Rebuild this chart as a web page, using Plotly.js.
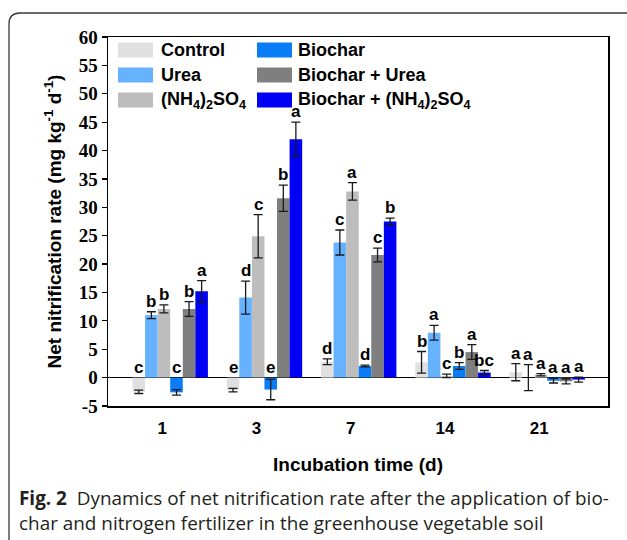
<!DOCTYPE html>
<html><head><meta charset="utf-8">
<script src="https://cdn.plot.ly/plotly-3.0.1.min.js"></script>
<style>html,body{margin:0;padding:0;background:#fff}#chart{width:627px;height:540px}</style>
</head><body><div id="chart"></div>
<script>
// ---- data ----
const days = ['1', '3', '7', '14', '21'];
const seriesNames = ['Control', 'Urea', '(NH<sub>4</sub>)<sub>2</sub>SO<sub>4</sub>', 'Biochar', 'Biochar + Urea', 'Biochar + (NH<sub>4</sub>)<sub>2</sub>SO<sub>4</sub>'];
const seriesColors = ['#e0e0e0', '#66b2ff', '#bdbdbd', '#0a7cf5', '#7f7f7f', '#0000f5'];

const control        = [-2.5, -2.2, 2.8, 2.7, 0.95];
const controlErr     = [0.3, 0.3, 0.5, 1.9, 1.5];
const urea           = [11.0, 14.1, 23.8, 7.9, 0.0];
const ureaErr        = [0.6, 2.9, 2.2, 1.3, 2.3];
const ammSulf        = [12.1, 24.9, 32.8, 0.3, 0.5];
const ammSulfErr     = [0.7, 3.8, 1.55, 0.3, 0.2];
const biochar        = [-2.6, -2.1, 2.05, 2.05, -0.55];
const biocharErr     = [0.5, 1.8, 0.15, 0.6, 0.4];
const biocharUrea    = [12.1, 31.6, 21.6, 4.5, -0.65];
const biocharUreaErr = [1.3, 2.3, 1.2, 1.3, 0.45];
const biocharAmm     = [15.2, 42.0, 27.5, 0.9, -0.35];
const biocharAmmErr  = [1.9, 3.0, 0.6, 0.35, 0.45];

const controlLetters     = ['c', 'e', 'd', 'b', 'a'];
const ureaLetters        = ['b', 'd', 'c', 'a', 'a'];
const ammSulfLetters     = ['b', 'c', 'a', 'c', 'a'];
const biocharLetters     = ['c', 'e', 'd', 'b', 'a'];
const biocharUreaLetters = ['b', 'b', 'c', 'a', 'a'];
const biocharAmmLetters  = ['a', 'a', 'b', 'bc', 'a'];

const yTickVals   = [-5, 0, 5, 10, 15, 20, 25, 30, 35, 40, 45, 50, 55, 60];
const yTickLabels = ['-5', '0', '5', '10', '15', '20', '25', '30', '35', '40', '45', '50', '55', '60'];

const captionText = '<b>Fig. 2</b>  Dynamics of net nitrification rate after the application of bio-<br>' +
  'char and nitrogen fertilizer in the greenhouse vegetable soil';

// ---- build ----
const values = [control, urea, ammSulf, biochar, biocharUrea, biocharAmm];
const errs = [controlErr, ureaErr, ammSulfErr, biocharErr, biocharUreaErr, biocharAmmErr];
const letters = [controlLetters, ureaLetters, ammSulfLetters, biocharLetters, biocharUreaLetters, biocharAmmLetters];

const bargap = 0.2;
const nS = values.length;
const barW = (1 - bargap) / nS;

const traces = values.map((v, k) => ({
  type: 'bar', x: days, y: v, name: seriesNames[k],
  marker: {color: seriesColors[k], line: {width: 0}},
  error_y: {type: 'data', array: errs[k], visible: true, color: '#1a1a1a', thickness: 1.3, width: 4.5},
  showlegend: false, hoverinfo: 'x+y+name'
}));

const BOLD = "'Liberation Sans', Arial, sans-serif";
const SERIF = "'Liberation Serif', 'Times New Roman', serif";
const annotations = [];
values.forEach((v, k) => {
  v.forEach((val, i) => {
    annotations.push({
      x: i + (k - (nS - 1) / 2) * barW, xref: 'x',
      y: Math.max(val + errs[k][i], 0), yref: 'y',
      text: letters[k][i], showarrow: false, xanchor: 'center', yanchor: 'bottom',
      font: {family: BOLD, size: 17, color: '#000', weight: 'bold'}, yshift: -1
    });
  });
});

// pixel helpers for decorative items (plot area: x 108..608, y 37..406)
const L = 108, R = 608, T = 37, B = 406;
const px = x => (x - L) / (R - L);
const py = y => (B - y) / (B - T);

// manual legend (two columns, three rows)
const legendOrder = [[0, 1, 2], [3, 4, 5]];
const colSym = [118, 257], colText = [159, 296], rowY = [50, 75, 100];
const shapes = [];
legendOrder.forEach((col, c) => col.forEach((k, r) => {
  shapes.push({type: 'rect', xref: 'paper', yref: 'paper',
    x0: px(colSym[c]), x1: px(colSym[c] + 35), y0: py(rowY[r] + 7.5), y1: py(rowY[r] - 7.5),
    fillcolor: seriesColors[k], line: {width: 0}});
  annotations.push({xref: 'paper', yref: 'paper', x: px(colText[c]), y: py(rowY[r]),
    xanchor: 'left', yanchor: 'middle', showarrow: false, text: seriesNames[k],
    font: {family: BOLD, size: 18, color: '#000', weight: 'bold'}});
}));

// rounded figure border
const bx = px(9), bt = py(13), rx = 11 / (R - L), ry = 11 / (B - T);
shapes.push({type: 'path', xref: 'paper', yref: 'paper', layer: 'below',
  path: `M ${bx},${py(560)} L ${bx},${bt - ry} Q ${bx},${bt} ${bx + rx},${bt} L ${px(660)},${bt}`,
  line: {color: '#3a3a3a', width: 1.3}});

// caption
annotations.push({xref: 'paper', yref: 'paper', x: px(17), y: py(510), xanchor: 'left', yanchor: 'middle',
  align: 'left', showarrow: false, text: captionText,
  font: {family: "'Open Sans', sans-serif", size: 18.9, color: '#231f20'}});

const layout = {
  width: 627, height: 540,
  margin: {l: L, r: 627 - R, t: T, b: 540 - B, pad: 0},
  paper_bgcolor: '#fff', plot_bgcolor: '#fff',
  barmode: 'group', bargap: bargap, bargroupgap: 0,
  showlegend: false,
  xaxis: {
    type: 'category', range: [-0.66, 4.645], showgrid: false, zeroline: false,
    showline: true, linecolor: '#000', linewidth: 1.5, mirror: true,
    ticks: '', ticklabelshift: -8, ticklabelstandoff: 6,
    tickfont: {family: BOLD, size: 17, color: '#000', weight: 'bold'},
    title: {text: 'Incubation time (d)', standoff: 21,
      font: {family: BOLD, size: 19, color: '#000', weight: 'bold'}}
  },
  yaxis: {
    range: [-5, 60], tickvals: yTickVals, ticktext: yTickLabels, showgrid: false,
    zeroline: true, zerolinecolor: '#000', zerolinewidth: 1.3,
    showline: true, linecolor: '#000', linewidth: 1.5, mirror: true,
    ticks: 'outside', ticklen: 5, tickwidth: 1.2, tickcolor: '#000',
    tickfont: {family: SERIF, size: 19, color: '#000', weight: 'bold'},
    title: {text: 'Net nitrification rate (mg kg<sup>-1</sup> d<sup>-1</sup>)', standoff: 12,
      font: {family: BOLD, size: 19, color: '#000', weight: 'bold'}}
  },
  annotations: annotations,
  shapes: shapes
};

Plotly.newPlot('chart', traces, layout, {displayModeBar: false, staticPlot: true});
</script>
</body></html>
